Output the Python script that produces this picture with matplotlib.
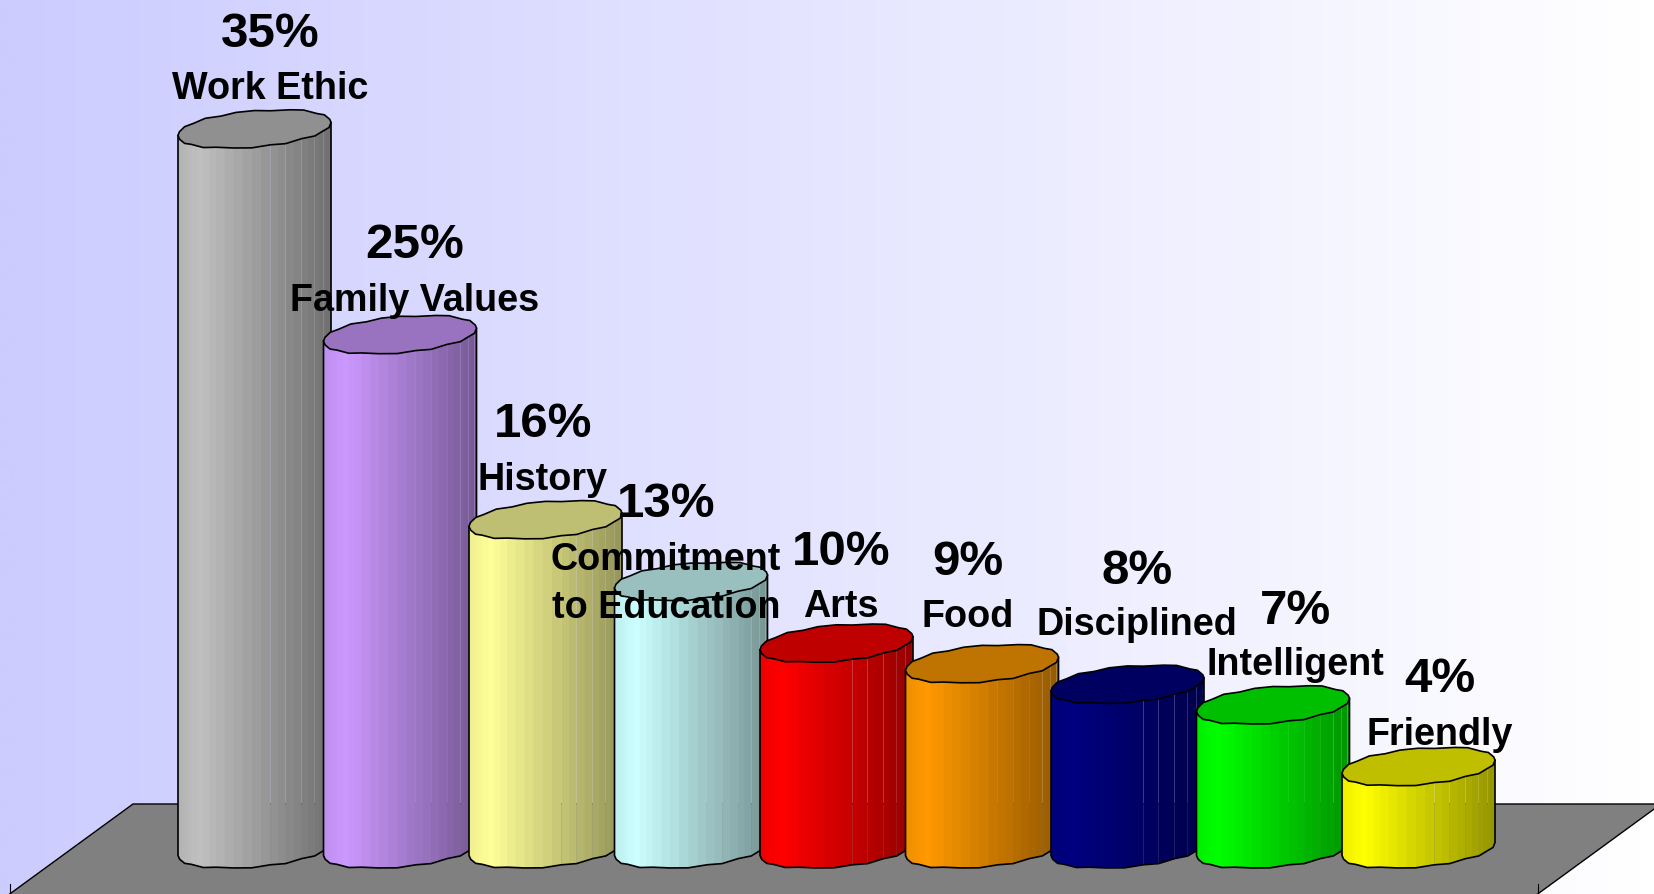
import matplotlib
matplotlib.use('Agg')
import matplotlib.pyplot as plt
import numpy as np

plt.rcParams['font.family'] = ['Liberation Sans', 'DejaVu Sans']

W, H = 1654, 895

# chart data
categories = ['Work Ethic', 'Family Values', 'History', 'Commitment\nto Education', 'Arts',
              'Food', 'Disciplined', 'Intelligent', 'Friendly']
values = [35, 25, 16, 13, 10, 9, 8, 7, 4]
bar_colors = ['#C0C0C0', '#CC99FF', '#FFFF99', '#CCFFFF', '#FF0000',
              '#FF9900', '#000080', '#00FF00', '#FFFF00']

# label placement in picture pixels (centre x, baseline y)
label_x = [270, 415, 543, 666, 841, 968, 1137, 1295, 1440]
pct_base = [47, 258, 437, 517, 565, 575, 584, 624, 692]
name_base = [99, 311, 490, 618, 617, 627, 635, 675, 745]

# pixels per unit of the two scales
x_unit = 145.5
y_unit = 20.57
x0_px = 254.5
y0_px = 850

half_w = 76.5 / x_unit
half_h = 18.0 / y_unit
skew = 6.5 / y_unit

# facet angles round the cylinder, a bit uneven like the original outline
facet_deg = [0, 10, 24, 35, 50, 62, 78, 90, 104, 116, 130, 143, 156, 169, 180,
             192, 204, 214, 228, 240, 254, 268, 282, 294, 308, 322, 334, 347, 360]
# small outline bumps (pixels), same list for all cylinders
bump_px = [0, -0.3, 0.5, -0.6, 0.8, 0.2, -0.7, 0.5, 0.7, -0.5, 0.9, -0.4, 0.5, -0.2, 0,
           0.3, -0.6, 0.6, -0.5, 0.8, 0.2, -0.6, 0.5, -0.7, 0.8, -0.6, 0.7, -0.3, 0]
t_all = np.radians(facet_deg)
bumps = np.array(bump_px) / y_unit


def fx(px):
    return px / W


def fy(py):
    return 1 - py / H


def rim(cx, cy, t, b):
    s = np.sin(t)
    return cx + half_w * np.cos(t), cy + half_h * np.sign(s) * np.abs(s) ** 0.93 + skew * np.cos(t) + b


def shade(frac):
    # light peak just left of the middle, dark on the right side
    return np.interp(frac, [0, 0.14, 0.4, 1], [0.93, 1.0, 0.87, 0.58])


def cylinder(ax, i, value, color, z):
    rgb = np.array(matplotlib.colors.to_rgb(color))
    front = t_all >= np.pi
    xb, yb = rim(i, 0, t_all[front], bumps[front])
    xt, yt = rim(i, value, t_all[front], bumps[front])
    # finer shading steps inside each facet
    xs = np.interp(np.linspace(0, len(xb) - 1, 2 * len(xb) - 1), np.arange(len(xb)), xb)
    ybf = np.interp(xs, xb, yb)
    ytf = np.interp(xs, xt, yt)
    for k in range(len(xs) - 1):
        frac = ((xs[k] + xs[k + 1]) / 2 - (i - half_w)) / (2 * half_w)
        # only the right hand strips keep a hairline seam
        x_end = xs[k + 1] if (frac > 0.55 and k % 2 == 1) else xs[k + 1] + 1.0 / x_unit
        x_end = min(x_end, xs[-1])
        ax.fill([xs[k], x_end, x_end, xs[k]], [ybf[k], ybf[k + 1], ytf[k + 1], ytf[k]],
                color=tuple(rgb * shade(frac)), lw=0, zorder=z)
    ax.plot(np.r_[xt[0], xb, xt[-1]], np.r_[yt[0], yb, yt[-1]], color='black', lw=1.2, zorder=z + 0.1,
            solid_joinstyle='round')
    xr, yr = rim(i, value, t_all, bumps)
    ax.fill(xr, yr, facecolor=tuple(rgb * 0.75), edgecolor='black', lw=1.2, zorder=z + 0.2)


fig = plt.figure(figsize=(W / 100, H / 100), dpi=100)
ax = fig.add_axes([0, 0, 1, 1])
ax.set_xlim(-x0_px / x_unit, (W - x0_px) / x_unit)
ax.set_ylim((y0_px - H) / y_unit, y0_px / y_unit)
ax.axis('off')

# wall gradient
grad = np.linspace(0, 1, 64).reshape(1, -1)
wall = np.zeros((1, 64, 3))
wall[..., 0] = 0.80 + 0.20 * grad
wall[..., 1] = 0.80 + 0.20 * grad
wall[..., 2] = 1.0
ax.imshow(wall, extent=(*ax.get_xlim(), *ax.get_ylim()), aspect='auto', zorder=0, interpolation='bilinear')

# floor, runs off the bottom of the picture
floor_x = [133, 1661, 1524, -4]
floor_y = [805, 805, 905, 905]
ax.fill([fx(p) for p in floor_x], [fy(p) for p in floor_y], transform=ax.transAxes,
        facecolor='#808080', edgecolor='black', lw=1.0, zorder=1, clip_on=True)
for px in (10, 1538):
    ax.plot([fx(px), fx(px)], [fy(885), fy(895)], transform=ax.transAxes, color='black', lw=0.8, zorder=1.5)

for i, (v, c) in enumerate(zip(values, bar_colors)):
    cylinder(ax, i, v, c, 2 + i)

for i, (name, v) in enumerate(zip(categories, values)):
    ax.text(fx(label_x[i]), fy(pct_base[i]), f'{v}%', transform=ax.transAxes, ha='center', va='baseline',
            fontsize=35.5, fontweight='bold', color='black', zorder=20)
    ax.text(fx(label_x[i]), fy(name_base[i]), name, transform=ax.transAxes, ha='center', va='baseline',
            fontsize=27.2, fontweight='bold', color='black', zorder=20, linespacing=1.42)

fig.savefig('out.png', dpi=100)
